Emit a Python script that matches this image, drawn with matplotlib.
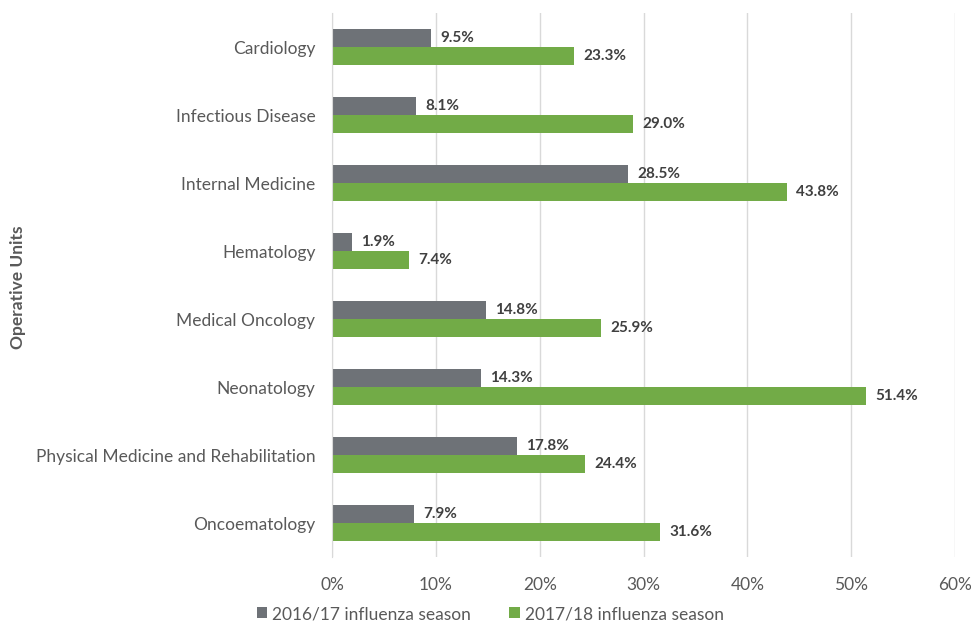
import matplotlib
matplotlib.use("Agg")
import matplotlib.pyplot as plt
import numpy as np

categories = ["Cardiology", "Infectious Disease", "Internal Medicine", "Hematology",
              "Medical Oncology", "Neonatology", "Physical Medicine and Rehabilitation",
              "Oncoematology"]
season_2016 = [9.5, 8.1, 28.5, 1.9, 14.8, 14.3, 17.8, 7.9]
season_2017 = [23.3, 29.0, 43.8, 7.4, 25.9, 51.4, 24.4, 31.6]
series_labels = ["2016/17 influenza season", "2017/18 influenza season"]
xticks = [0, 10, 20, 30, 40, 50, 60]

plt.rcParams['font.family'] = ['Lato', 'DejaVu Sans']
fig = plt.figure(figsize=(9.71, 6.24), dpi=100)
ax = fig.add_axes([0.342, 0.107, 0.6415, 0.872])

y = np.arange(len(categories))
h = 0.265
gray = "#6e7277"
green = "#72ab47"
b1 = ax.barh(y - h/2, season_2016, height=h, color=gray, label=series_labels[0], zorder=3)
b2 = ax.barh(y + h/2, season_2017, height=h, color=green, label=series_labels[1], zorder=3)
for bars, vals in ((b1, season_2016), (b2, season_2017)):
    for bar, v in zip(bars, vals):
        ax.text(v + 0.9, bar.get_y() + bar.get_height()/2, f"{v:.1f}%", va="center", ha="left",
                fontsize=11, fontweight="bold", color="#404040")

ax.set_ylim(len(categories) - 0.5, -0.5)
ax.set_xlim(0, 60)
ax.set_yticks(y)
ax.set_yticklabels(categories, fontsize=12.5, color="#595959")
ax.set_xticks(xticks)
ax.set_xticklabels([f"{t}%" for t in xticks], fontsize=12.5, color="#595959")
ax.tick_params(axis="both", length=0, pad=12)
ax.tick_params(axis="x", pad=14)
ax.grid(axis="x", color="#d9d9d9", linewidth=1, zorder=0)
for s in ["top", "right", "bottom"]:
    ax.spines[s].set_visible(False)
ax.spines["left"].set_color("#d9d9d9")
ax.spines["left"].set_zorder(4)
fig.text(0.019, 0.54, "Operative Units", rotation=90, ha="center", va="center",
         fontsize=12.5, fontweight="bold", color="#595959")
leg = fig.legend(handles=[b1, b2], labels=series_labels, loc="center", bbox_to_anchor=(0.505, 0.016),
                 ncol=2, frameon=False, fontsize=12.5, handlelength=0.6, handleheight=0.6,
                 handletextpad=0.3, columnspacing=2.2)
for t in leg.get_texts():
    t.set_color("#595959")
fig.savefig("out.png", dpi=100, facecolor="white")
